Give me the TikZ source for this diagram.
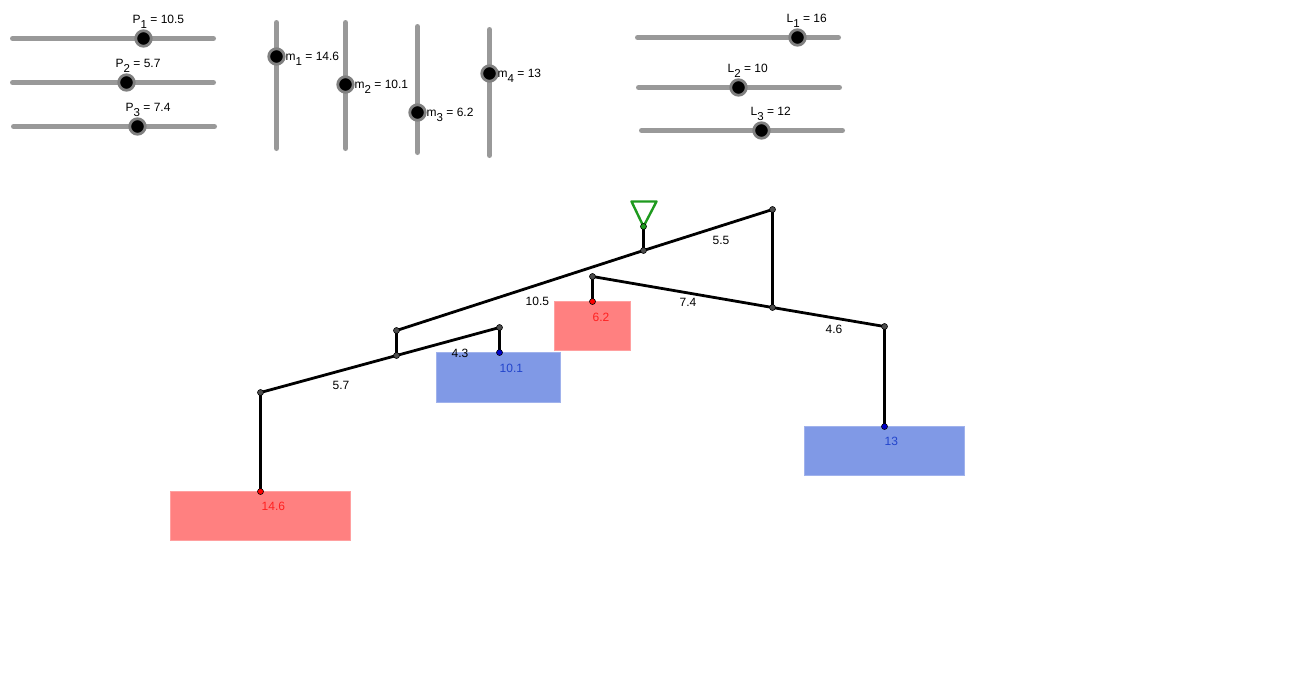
\documentclass[tikz,border=0pt]{standalone}
\usepackage{fontspec}
\setmainfont{Liberation Sans}
\usetikzlibrary{positioning}
\pgfdeclarelayer{bg}
\pgfsetlayers{bg,main}
\definecolor{trackgray}{HTML}{999999}
\definecolor{redbox}{HTML}{FF8080}
\definecolor{bluebox}{HTML}{8099E6}
\definecolor{redtext}{HTML}{FF2020}
\definecolor{bluetext}{HTML}{2244CC}
\definecolor{hookgreen}{HTML}{1E9A1E}
\newcommand{\lowsub}[1]{\raisebox{-4.5pt}{\fontsize{11.5}{11.5}\selectfont #1}}
\tikzset{
	track/.style={draw=trackgray, line width=5pt, line cap=round},
	knob/.style={circle, fill=black, draw=black!50, line width=2.8pt, inner sep=0pt, minimum size=15.5pt},
	pivot/.style={circle, fill=black!70, draw=black, line width=.6pt, inner sep=0pt, minimum size=6pt},
	beam/.style={draw=black, line width=2.8pt},
	val/.style={anchor=base west, inner sep=0pt, font=\fontsize{12}{14}\selectfont},
	weight/.style={inner sep=0pt, outer sep=0pt, anchor=north west, line width=.8pt},
}
\begin{document}
\begin{tikzpicture}[x=1pt, y=-1pt]
	\useasboundingbox (0,0) rectangle (1296,689);
	\begin{scope}[shift={(.5,.5)}]
	% sliders
	\foreach \n/\a/\b/\y/\k/\lx/\ly/\t in {
		P1/12/213/38/143/132/23/{P\lowsub{1} = 10.5},
		P2/12/213/82/126/115/67/{P\lowsub{2} = 5.7},
		P3/13/214/126/137/125/111/{P\lowsub{3} = 7.4},
		L1/637/838/37/797/786/22/{L\lowsub{1} = 16},
		L2/638/839/87/738/727/72/{L\lowsub{2} = 10},
		L3/641/842/130/761/750/115/{L\lowsub{3} = 12}} {
		\coordinate (\n a) at (\a,\y);
		\coordinate (\n b) at (\b,\y);
		\draw[track] (\n a) -- (\n b);
		\node[knob] (\n k) at (\k,\y) {};
		\node[val] (\n t) at (\lx,\ly) {\t};
	}
	\foreach \n/\x/\a/\b/\k/\lx/\ly/\t in {
		m1/276/22/148/56/285/60/{m\lowsub{1} = 14.6},
		m2/345/22/148/84/354/88/{m\lowsub{2} = 10.1},
		m3/417/26/152/112/426/116/{m\lowsub{3} = 6.2},
		m4/489/29/155/73/497/77/{m\lowsub{4} = 13}} {
		\coordinate (\n a) at (\x,\a);
		\coordinate (\n b) at (\x,\b);
		\draw[track] (\n a) -- (\n b);
		\node[knob] (\n k) at (\x,\k) {};
		\node[val] (\n t) at (\lx,\ly) {\t};
	}
	% mobile
	\node[pivot] (top) at (643,250) {};
	\node[pivot] (tl) at (396,330) {};
	\node[pivot] (tr) at (772,209) {};
	\node[pivot] (ml) at (396,355) {};
	\node[pivot] (mr) at (772,307) {};
	\node[pivot] (ll) at (260,392) {};
	\node[pivot] (lr) at (499,327) {};
	\node[pivot] (rl) at (592,276) {};
	\node[pivot] (rr) at (884,326) {};
	\node[pivot, fill=hookgreen] (hook) at (643,226) {};
	\node[pivot, fill=red] (e1) at (260,491) {};
	\node[pivot, fill=blue!80!black] (e2) at (499,352) {};
	\node[pivot, fill=red] (e3) at (592,301) {};
	\node[pivot, fill=blue!80!black] (e4) at (884,426) {};
	\coordinate (tria) at (631,201);
	\coordinate (trib) at (656,201);
	\begin{pgfonlayer}{bg}
		% weights
		\node[weight, fill=redbox, draw=redbox!75!white, minimum width=180pt, minimum height=49pt] (w1) at (170,491) {};
		\node[weight, fill=bluebox, draw=bluebox!75!white, minimum width=124pt, minimum height=49.5pt] (w2) at (436,352) {};
		\node[weight, fill=redbox, draw=redbox!75!white, minimum width=76pt, minimum height=49pt] (w3) at (554,301) {};
		\node[weight, fill=bluebox, draw=bluebox!75!white, minimum width=160pt, minimum height=48.5pt] (w4) at (804,426) {};
		\draw[draw=hookgreen, line width=2.4pt, line join=round] (tria) -- (trib) -- (hook.center) -- cycle;
		\draw[beam] (hook.center) -- (top.center);
		\draw[beam] (tl.center) -- (top.center) -- (tr.center) -- (mr.center);
		\draw[beam] (tl.center) -- (ml.center);
		\draw[beam] (ll.center) -- (ml.center) -- (lr.center) -- (e2.center);
		\draw[beam] (rl.center) -- (mr.center) -- (rr.center) -- (e4.center);
		\draw[beam] (rl.center) -- (e3.center);
		\draw[beam] (ll.center) -- (e1.center);
	\end{pgfonlayer}
	% lengths
	\node[val] (d1) at (712,244) {5.5};
	\node[val] (d2) at (525,305) {10.5};
	\node[val] (d3) at (679,306) {7.4};
	\node[val] (d4) at (825,333) {4.6};
	\node[val] (d5) at (451,357) {4.3};
	\node[val] (d6) at (332,389) {5.7};
	% masses
	\node[val, text=redtext] (v1) at (261,510) {14.6};
	\node[val, text=bluetext] (v2) at (499,372) {10.1};
	\node[val, text=redtext] (v3) at (592,321) {6.2};
	\node[val, text=bluetext] (v4) at (884,445) {13};
	\end{scope}
\end{tikzpicture}
\end{document}
